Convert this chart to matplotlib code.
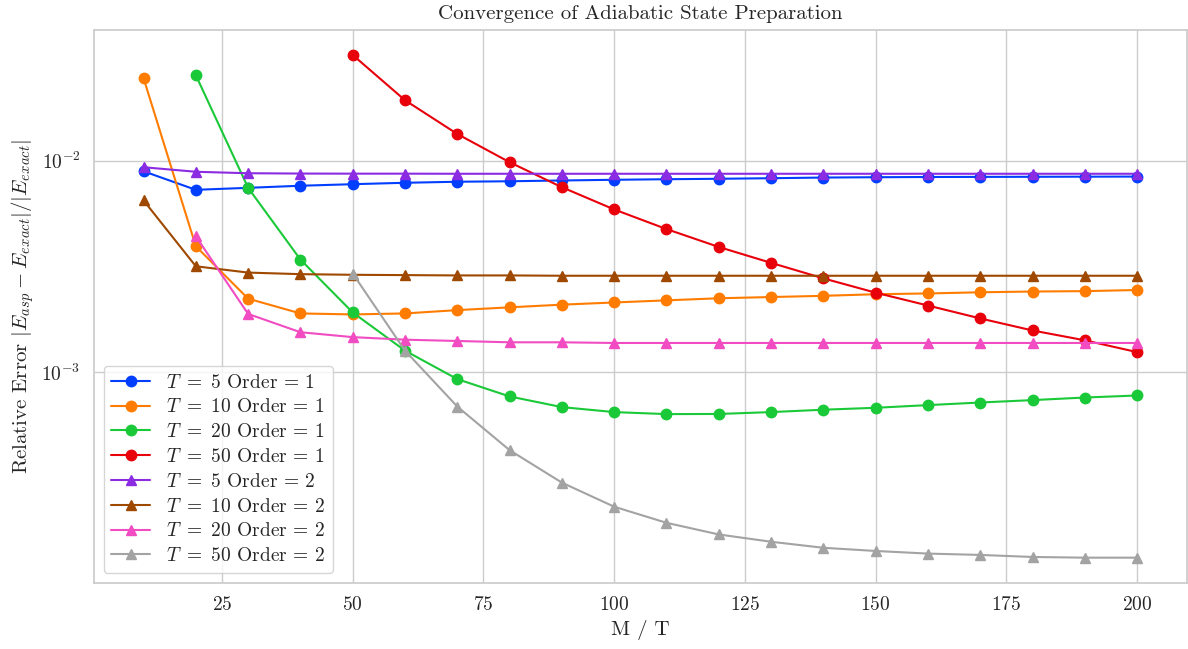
import matplotlib
matplotlib.use("Agg")
import matplotlib.pyplot as plt
import seaborn as sns

sns.set_theme(style="whitegrid", palette="bright", font_scale=1.3)
plt.rcParams["font.family"] = "serif"
plt.rcParams["font.serif"] = ["cmr10", "DejaVu Serif"]
plt.rcParams["mathtext.fontset"] = "cm"
plt.rcParams["axes.formatter.use_mathtext"] = True
plt.rcParams["axes.unicode_minus"] = False

# M / T values
m_all = [10, 20, 30, 40, 50, 60, 70, 80, 90, 100, 110, 120, 130, 140, 150, 160, 170, 180, 190, 200]
m_from20 = m_all[1:]
m_from50 = m_all[4:]

# order 1
err_t5_o1 = [0.00890, 0.00727, 0.00743, 0.00760, 0.00773, 0.00785, 0.00794, 0.00798, 0.00805, 0.00811,
             0.00816, 0.00820, 0.00825, 0.00831, 0.00834, 0.00836, 0.00837, 0.00838, 0.00839, 0.00840]
err_t10_o1 = [0.02455, 0.00393, 0.00222, 0.00189, 0.00187, 0.00189, 0.00196, 0.00202, 0.00208, 0.00213,
              0.00218, 0.00223, 0.00226, 0.00229, 0.00233, 0.00235, 0.00238, 0.00240, 0.00241, 0.00244]
err_t20_o1 = [0.02535, 0.00743, 0.00340, 0.00191, 0.00126, 0.000924, 0.000765, 0.000681, 0.000645,
              0.000631, 0.000632, 0.000645, 0.000662, 0.000676, 0.000696, 0.000716, 0.000735, 0.000756, 0.000773]
err_t50_o1 = [0.0316, 0.0193, 0.01336, 0.00982, 0.00748, 0.00587, 0.00474, 0.00390, 0.00328, 0.00277,
              0.00237, 0.00206, 0.00179, 0.00157, 0.00141, 0.00124]

# order 2
err_t5_o2 = [0.00930, 0.00885, 0.00871, 0.00868, 0.00867, 0.00867, 0.00866, 0.00866, 0.00866, 0.00866,
             0.00866, 0.00866, 0.00866, 0.00866, 0.00866, 0.00866, 0.00866, 0.00866, 0.00866, 0.00866]
err_t10_o2 = [0.00648, 0.00316, 0.00295, 0.00290, 0.00288, 0.00287, 0.00286, 0.00286, 0.00285, 0.00285,
              0.00285, 0.00285, 0.00285, 0.00285, 0.00285, 0.00285, 0.00285, 0.00285, 0.00285, 0.00285]
err_t20_o2 = [0.00438, 0.00188, 0.00154, 0.00146, 0.00142, 0.00140, 0.00138, 0.00138, 0.00137, 0.00137,
              0.00137, 0.00137, 0.00137, 0.00137, 0.00137, 0.00137, 0.00137, 0.00137, 0.00137]
err_t50_o2 = [0.00292, 0.00126, 0.000685, 0.000426, 0.000299, 0.000230, 0.000193, 0.000170, 0.000157,
              0.000147, 0.000142, 0.000138, 0.000136, 0.000133, 0.000132, 0.000132]

series = [
    (m_all, err_t5_o1, 5, 1),
    (m_all, err_t10_o1, 10, 1),
    (m_from20, err_t20_o1, 20, 1),
    (m_from50, err_t50_o1, 50, 1),
    (m_all, err_t5_o2, 5, 2),
    (m_all, err_t10_o2, 10, 2),
    (m_from20, err_t20_o2, 20, 2),
    (m_from50, err_t50_o2, 50, 2),
]

colors = sns.color_palette("bright")

fig, ax = plt.subplots(figsize=(11.88, 6.49), dpi=100)
for i, (x, y, T, order) in enumerate(series):
    marker = "o" if order == 1 else "^"
    ax.plot(x, y, marker=marker, color=colors[i], linewidth=1.5, markersize=7.5,
            label=rf"$T\ =\ {T}$ Order = {order}")

ax.set_yscale("log")
ax.set_xlabel("M / T", fontsize=15)
ax.set_ylabel(r"Relative Error $|E_{asp} - E_{exact}|/|E_{exact}|$", fontsize=15)
ax.set_title("Convergence of Adiabatic State Preparation", fontsize=15, pad=7.5)
ax.tick_params(labelsize=14)
ax.legend(loc="lower left", fontsize=14, handlelength=2, borderpad=0.4, labelspacing=0.35)

fig.subplots_adjust(left=0.079, right=0.999, top=0.954, bottom=0.102)
plt.savefig("out.png")
